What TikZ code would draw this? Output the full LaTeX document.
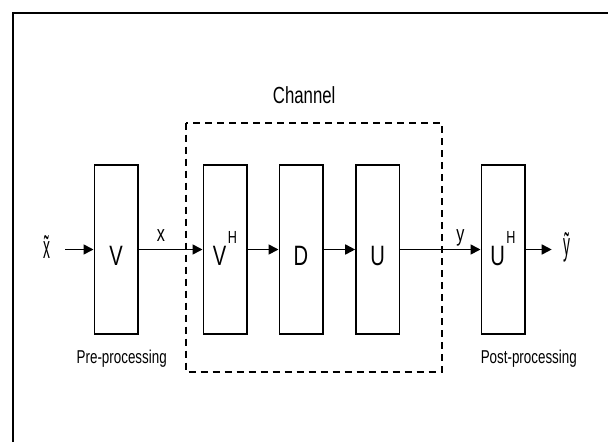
\documentclass[tikz,border=0pt]{standalone}
\usepackage{fontspec}
\setmainfont[FakeStretch=0.72]{Liberation Sans}
\usetikzlibrary{arrows.meta}
\newcommand{\supH}{\raisebox{22pt}{\fontsize{17.5}{18}\selectfont H}}
\begin{document}
\begin{tikzpicture}[x=1pt,y=-1pt,
  blk/.style={draw, line width=1.6pt, minimum width=43.4pt, minimum height=169.4pt,
    inner sep=0pt, text height=32pt, text depth=0pt, font=\fontsize{28}{28}\selectfont},
  conn/.style={line width=1.7pt, -{Triangle[length=10pt,width=10pt]}},
  lab/.style={font=\fontsize{22.5}{24}\selectfont, anchor=base, inner sep=0pt},
  big/.style={font=\fontsize{32}{34}\selectfont, anchor=base, inner sep=0pt},
  capt/.style={font=\fontsize{18.6}{20}\selectfont, anchor=base, inner sep=0pt}]
\useasboundingbox (0,0) rectangle (608,442);
\draw[line width=1.8pt] (13,442) -- (13,13) -- (608,13);
% channel frame
\draw[line width=1.6pt, dash pattern=on 7pt off 5pt] (185.7,122.7) rectangle (441.7,371.7);
\node[lab, font=\fontsize{23.3}{25}\selectfont] (ch) at (304.2,103.3) {Channel};
% blocks
\node[blk] (V)  at (116,249.5) {V};
\node[blk] (VH) at (225,249.5) {V\kern1.5pt\supH};
\node[blk] (D)  at (301,249.5) {D};
\node[blk] (U)  at (377.7,249.5) {U};
\node[blk] (UH) at (503,249.5) {U\kern1.5pt\supH};
% texts
\node[big] (xt) at (46.5,258.5) {\scalebox{0.6}[1]{\~{x}}};
\node[big] (yt) at (566.7,255) {\scalebox{0.6}[1]{\~{y}}};
\node[lab] (xl) at (160.8,241.7) {x};
\node[lab] (yl) at (460.5,241.7) {y};
\node[capt] (pre)  at (121.7,363.3) {Pre-processing};
\node[capt] (post) at (528.8,363.3) {Post-processing};
% connectors
\coordinate (xin) at (65,249.5);
\coordinate (yout) at (551.7,249.5);
\draw[conn] (xin) -- (V.west);
\draw[conn] (V.east) -- (VH.west);
\draw[conn] (VH.east) -- (D.west);
\draw[conn] (D.east) -- (U.west);
\draw[conn] (U.east) -- (UH.west);
\draw[conn] (UH.east) -- (yout);
\end{tikzpicture}
\end{document}
